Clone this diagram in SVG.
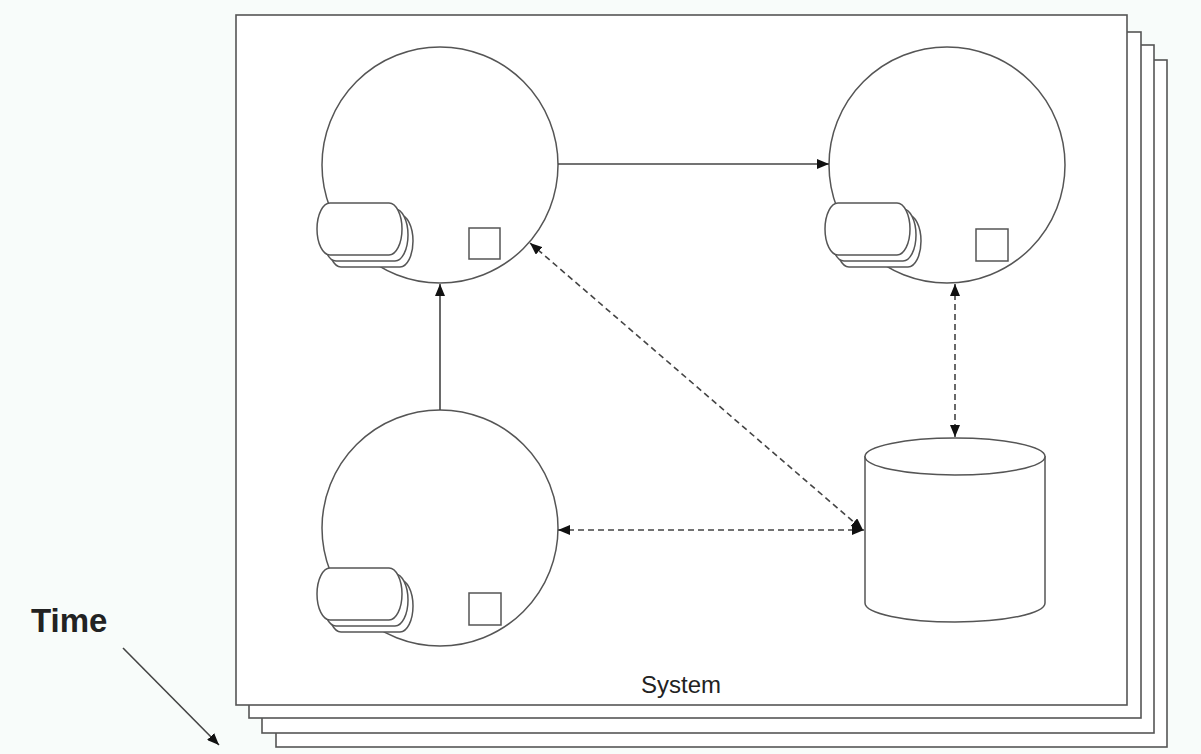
<svg xmlns="http://www.w3.org/2000/svg" width="1201" height="754" viewBox="0 0 1201 754">
<style>
.frame{fill:#fff;stroke:#555;stroke-width:1.6}
.shape{fill:#fff;stroke:#555;stroke-width:1.5}
.conn{fill:none;stroke:#444;stroke-width:1.6}
.dash{stroke-dasharray:6 4}
.lbl{font-family:"Liberation Sans",Arial,sans-serif;fill:#222}
</style>
<defs>
<marker id="ah" viewBox="0 0 12 10" refX="12" refY="5" markerWidth="12" markerHeight="10" markerUnits="userSpaceOnUse" orient="auto-start-reverse">
<path d="M0,0 L12,5 L0,10 Z" fill="#111"/>
</marker>
<path id="drum" d="M13,0 H72 A13,26 0 0 1 72,52 H13 A13,26 0 0 1 13,0 Z"/>
<g id="drumstack">
<use href="#drum" class="shape" transform="translate(11,12)"/>
<use href="#drum" class="shape" transform="translate(6,6)"/>
<use href="#drum" class="shape"/>
</g>
</defs>
<rect width="1201" height="754" fill="#f8fcfa"/>
<g id="frames">
<rect class="frame" x="276" y="60" width="891" height="687"/>
<rect class="frame" x="262" y="45" width="892" height="688"/>
<rect class="frame" x="249" y="32" width="892" height="686"/>
<rect class="frame" x="236" y="15" width="891" height="690"/>
</g>
<g id="node-topleft">
<circle class="shape" cx="440" cy="165" r="118"/>
<use href="#drumstack" transform="translate(317,203)"/>
<rect class="shape" x="469" y="228" width="31" height="31"/>
</g>
<g id="node-topright">
<circle class="shape" cx="947" cy="165" r="118"/>
<use href="#drumstack" transform="translate(825,203)"/>
<rect class="shape" x="976" y="229" width="32" height="32"/>
</g>
<g id="node-bottomleft">
<circle class="shape" cx="440" cy="528" r="118"/>
<use href="#drumstack" transform="translate(317,568)"/>
<rect class="shape" x="469" y="593" width="32" height="32"/>
</g>
<g id="node-database">
<path class="shape" d="M865,456 V603 A90,19 0 0 0 1045,603 V456"/>
<ellipse class="shape" cx="955" cy="456.5" rx="90" ry="18.5"/>
</g>
<g id="connectors">
<line class="conn" x1="558" y1="164" x2="829" y2="164" marker-end="url(#ah)"/>
<line class="conn" x1="440" y1="410" x2="440" y2="284" marker-end="url(#ah)"/>
<line class="conn dash" x1="530" y1="243" x2="863" y2="530" marker-start="url(#ah)" marker-end="url(#ah)"/>
<line class="conn dash" x1="558" y1="530" x2="864" y2="530" marker-start="url(#ah)" marker-end="url(#ah)"/>
<line class="conn dash" x1="955" y1="284" x2="955" y2="437" marker-start="url(#ah)" marker-end="url(#ah)"/>
<line class="conn" x1="123" y1="648" x2="219" y2="745" marker-end="url(#ah)"/>
</g>
<text class="lbl" x="681" y="693" font-size="24" text-anchor="middle">System</text>
<text class="lbl" x="31" y="632" font-size="33" font-weight="bold" fill="#111">Time</text>
</svg>
